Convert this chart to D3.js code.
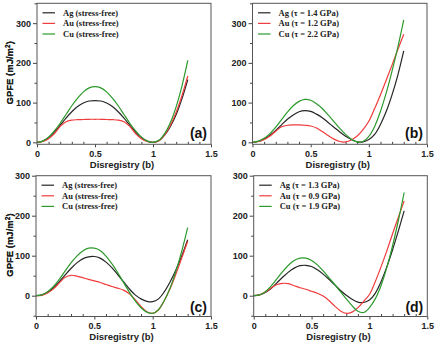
<!DOCTYPE html>
<meta charset="utf-8">
<style>
body { margin: 0; background: #fff; }
svg { display: block; }
.axis text { font-family: "Liberation Sans", Arial, sans-serif; font-weight: bold; font-size: 9px; fill: #222; }
.axis path { display: none; }
.axis line { stroke: #444; }
.frame { fill: none; stroke: #555; stroke-width: 1; }
.atitle { font-family: "Liberation Sans", Arial, sans-serif; font-weight: bold; font-size: 9.5px; fill: #222; }
.leg { font-family: "Liberation Serif", "Times New Roman", serif; font-weight: bold; font-size: 8.5px; fill: #222; }
.plabel { font-family: "Liberation Sans", Arial, sans-serif; font-weight: bold; font-size: 14px; fill: #111; }
.curve { fill: none; stroke-width: 1.2; }
</style>
<svg width="436" height="350"></svg>
<script src="https://cdn.jsdelivr.net/npm/d3@7"></script>
<script>

// disregistry (b)
var xs = [0, 0.05, 0.1, 0.15, 0.2, 0.25, 0.3, 0.35, 0.4, 0.45, 0.5, 0.55, 0.6, 0.65,
          0.7, 0.75, 0.8, 0.85, 0.9, 0.95, 1.0, 1.05, 1.1, 1.15, 1.2, 1.25, 1.3];

// (a) stress-free
var agA = [0, 3, 12, 26, 43, 61, 77, 90, 99, 104, 105, 104, 99, 90, 77, 61, 43, 26, 12, 3, 0, 4, 18, 40, 70, 110, 158];
var auA = [0, 2, 9, 22, 40, 52, 56, 57, 57.5, 58, 58, 58, 57.5, 57, 56, 52, 40, 22, 9, 2, 0, 4, 19, 43, 76, 118, 167];
var cuA = [0, 3, 13, 29, 48, 70, 92, 111, 127, 137, 140, 137, 127, 111, 92, 70, 48, 29, 13, 3, 0, 5, 22, 50, 90, 142, 206];

// (b) under stress
var agB = [0, 2, 8, 18, 30, 44, 58, 69, 77, 80, 78, 71, 62, 50, 38, 26, 15, 7, 1, 1, 7, 20, 45, 78, 120, 170, 230];
var auB = [0, 2, 7, 16, 28, 39, 43, 44, 44, 43, 41, 36, 27, 17, 8, 2, 1, 6, 16, 32, 53, 85, 120, 157, 195, 234, 272];
var cuB = [0, 3, 10, 22, 38, 57, 76, 92, 103, 108, 106, 97, 85, 69, 52, 35, 20, 8, 1, 2, 15, 40, 78, 125, 180, 240, 308];

// (c) stress-free
var agC = [0, 2, 9, 20, 35, 52, 68, 82, 92, 97, 98, 94, 84, 70, 53, 35, 17, 2, -8, -14, -15, -8, 10, 35, 65, 100, 140];
var auC = [0, 1, 7, 17, 32, 46, 51, 49, 45, 41, 37, 33, 28, 23, 19, 14, 5, -10, -27, -40, -44, -35, -12, 18, 55, 95, 136];
var cuC = [0, 2, 10, 23, 41, 62, 82, 99, 112, 119, 119, 113, 99, 80, 58, 33, 9, -13, -30, -41, -44, -35, -12, 20, 62, 112, 170];

// (d) under stress
var agD = [0, 2, 8, 18, 32, 46, 59, 69, 75, 76, 73, 65, 54, 41, 27, 13, 1, -9, -16, -17, -11, 6, 35, 72, 115, 162, 212];
var auD = [0, 2, 9, 19, 28, 31, 30, 25, 20, 16, 11, 6, -1, -12, -26, -38, -44, -41, -30, -14, 3, 35, 72, 112, 155, 196, 237];
var cuD = [0, 2, 10, 24, 42, 60, 76, 88, 94, 94, 88, 77, 62, 45, 28, 10, -8, -25, -39, -42, -30, -8, 25, 70, 125, 188, 258];

var names = ["Ag", "Au", "Cu"];
var colors = ["#262626", "#f03c3c", "#2c9a2c"];

var panels = [
  {id: "(a)", left: 37, right: 211, top: 3.3, bottom: 144.3, yDom: [-5, 350], yMinor: [50, 150, 250, 350],
   series: [agA, auA, cuA], legend: ["Ag (stress-free)", "Au (stress-free)", "Cu (stress-free)"], lab: 6},
  {id: "(b)", left: 252.5, right: 427, top: 3.3, bottom: 144.3, yDom: [-5, 350], yMinor: [50, 150, 250, 350],
   series: [agB, auB, cuB], legend: ["Ag (τ = 1.4 GPa)", "Au (τ = 1.2 GPa)", "Cu (τ = 2.2 GPa)"], lab: 6},
  {id: "(c)", left: 36, right: 211, top: 175.7, bottom: 316.5, yDom: [-52, 300], yMinor: [-50, 50, 150, 250],
   series: [agC, auC, cuC], legend: ["Ag (stress-free)", "Au (stress-free)", "Cu (stress-free)"], lab: 4},
  {id: "(d)", left: 253.7, right: 427.3, top: 175.7, bottom: 316.5, yDom: [-52, 300], yMinor: [-50, 50, 150, 250],
   series: [agD, auD, cuD], legend: ["Ag (τ = 1.3 GPa)", "Au (τ = 0.9 GPa)", "Cu (τ = 1.9 GPa)"], lab: 4}
];

var svg = d3.select("svg");

panels.forEach(function(p) {
  var w = p.right - p.left, h = p.bottom - p.top;
  var g = svg.append("g").attr("transform", "translate(" + p.left + "," + p.top + ")");

  var x = d3.scaleLinear().domain([0, 1.5]).range([0, w]),
      y = d3.scaleLinear().domain(p.yDom).range([h, 0]);

  // minor x ticks point inward
  g.append("g")
      .attr("class", "axis")
      .attr("transform", "translate(0," + h + ")")
      .call(d3.axisTop(x).tickValues([0.1, 0.2, 0.3, 0.4, 0.6, 0.7, 0.8, 0.9, 1.1, 1.2, 1.3, 1.4]).tickSize(2.5).tickFormat(""));

  g.append("g")
      .attr("class", "axis")
      .attr("transform", "translate(0," + h + ")")
      .call(d3.axisBottom(x).tickValues([0, 0.5, 1, 1.5]).tickSize(3).tickPadding(3).tickFormat(d3.format("")));

  g.append("g")
      .attr("class", "axis")
      .call(d3.axisLeft(y).tickValues(p.yMinor.filter(function(v) { return v <= p.yDom[1]; })).tickSize(2.5).tickFormat(""));

  g.append("g")
      .attr("class", "axis")
      .call(d3.axisLeft(y).tickValues([0, 100, 200, 300]).tickSize(4).tickPadding(2));

  var line = d3.line()
      .x(function(d, i) { return x(xs[i]); })
      .y(function(d) { return y(d); })
      .curve(d3.curveCatmullRom.alpha(0.5));

  p.series.forEach(function(s, i) {
    g.append("path")
        .attr("class", "curve")
        .attr("d", line(s))
        .attr("stroke", colors[i]);
  });

  g.append("rect")
      .attr("class", "frame")
      .attr("width", w)
      .attr("height", h);

  var leg = g.selectAll(".legrow")
    .data(p.legend)
    .enter().append("g")
      .attr("transform", function(d, i) { return "translate(0," + (9.5 + i * 10.6) + ")"; });

  leg.append("line")
      .attr("x1", 5.5).attr("x2", 18)
      .attr("stroke", function(d, i) { return colors[i]; })
      .attr("stroke-width", 1.2);

  leg.append("text")
      .attr("class", "leg")
      .attr("x", 26)
      .attr("dy", "0.33em")
      .text(function(d) { return d; });

  g.append("text")
      .attr("class", "plabel")
      .attr("x", w - 4)
      .attr("y", h - p.lab)
      .attr("text-anchor", "end")
      .text(p.id);

  g.append("text")
      .attr("class", "atitle")
      .attr("x", w / 2 - 2)
      .attr("y", h + 23.5)
      .attr("text-anchor", "middle")
      .text("Disregistry (b)");

  g.append("text")
      .attr("class", "atitle")
      .attr("transform", "rotate(-90)")
      .attr("x", -h / 2 + 1)
      .attr("y", -p.left + 13)
      .attr("text-anchor", "middle")
      .html("GPFE (mJ/m<tspan dy='-3' font-size='6.5px'>2</tspan><tspan dy='3'>)</tspan>");
});

</script>
